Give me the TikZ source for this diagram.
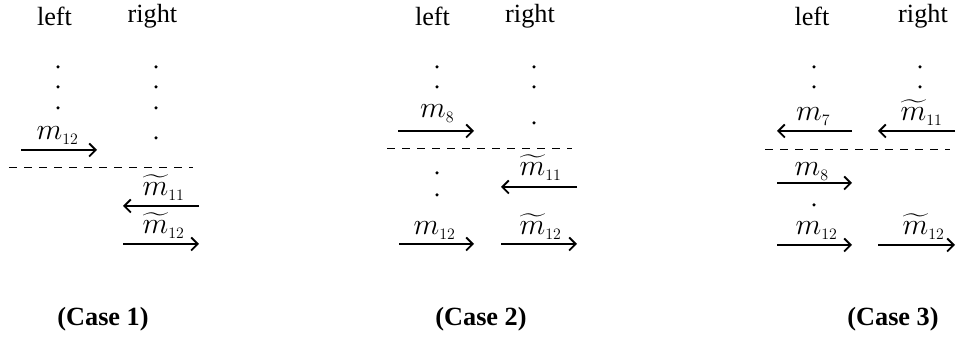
\documentclass[tikz,border=0pt]{standalone}
\usepackage[no-math]{fontspec}
\setmainfont{Liberation Serif}
\usepackage{graphicx}
\usetikzlibrary{arrows.meta}
\newcommand\sbn[1]{_{\hbox{\scalebox{0.53}{$#1$}}}}
\tikzset{
  msg/.style={line width=0.75pt, -{Straight Barb[length=2.6pt,width=5.2pt]}},
  lbl/.style={anchor=base, inner sep=0pt, font=\fontsize{12.3}{14}\selectfont},
  hdr/.style={anchor=base, inner sep=0pt, font=\fontsize{10.5}{12}\selectfont},
  casetitle/.style={anchor=base, inner sep=0pt, font=\fontsize{10.5}{12}\selectfont\bfseries},
  sepline/.style={dashed, line width=0.4pt},
  dotr/.style={radius=0.7pt}
}
\begin{document}
\begin{tikzpicture}[x=0.4pt,y=-0.4pt]
\useasboundingbox (0,0) rectangle (956,337);
% ---------------- Case 1
\node[hdr] (h1l) at (54.5,26) {left};
\node[hdr] (h1r) at (152.5,23) {right};
\foreach \yy in {67,87,108} \fill (58,\yy) circle[dotr];
\foreach \yy in {67,87,108,138} \fill (156,\yy) circle[dotr];
\coordinate (c1a) at (21,150); \coordinate (c1b) at (97,150);
\draw[msg] (c1a) -- (c1b);
\node[lbl] (l1a) at (58,140) {$m\sbn{12}$};
\coordinate (d1a) at (9,168); \coordinate (d1b) at (193,168);
\draw[sepline] (d1a) -- (d1b);
\coordinate (c1c) at (199,206); \coordinate (c1d) at (123,206);
\draw[msg] (c1c) -- (c1d);
\node[lbl] (l1b) at (164,196) {$\widetilde{m}\sbn{11}$};
\coordinate (c1e) at (123,244); \coordinate (c1f) at (199,244);
\draw[msg] (c1e) -- (c1f);
\node[lbl] (l1c) at (164,234) {$\widetilde{m}\sbn{12}$};
\node[casetitle] (t1) at (103,326) {(Case 1)};
% ---------------- Case 2
\node[hdr] (h2l) at (432.5,26) {left};
\node[hdr] (h2r) at (530,23) {right};
\foreach \yy in {67,87,173,195} \fill (437,\yy) circle[dotr];
\foreach \yy in {67,87,123} \fill (534,\yy) circle[dotr];
\coordinate (c2a) at (398,131); \coordinate (c2b) at (474,131);
\draw[msg] (c2a) -- (c2b);
\node[lbl] (l2a) at (437.5,118) {$m\sbn{8}$};
\coordinate (d2a) at (387,149); \coordinate (d2b) at (572,149);
\draw[sepline] (d2a) -- (d2b);
\coordinate (c2c) at (577,187); \coordinate (c2d) at (501,187);
\draw[msg] (c2c) -- (c2d);
\node[lbl] (l2b) at (541,176) {$\widetilde{m}\sbn{11}$};
\coordinate (c2e) at (399,244); \coordinate (c2f) at (474,244);
\draw[msg] (c2e) -- (c2f);
\node[lbl] (l2c) at (435,235) {$m\sbn{12}$};
\coordinate (c2g) at (501,244); \coordinate (c2h) at (577,244);
\draw[msg] (c2g) -- (c2h);
\node[lbl] (l2d) at (541,235) {$\widetilde{m}\sbn{12}$};
\node[casetitle] (t2) at (481,326) {(Case 2)};
% ---------------- Case 3
\node[hdr] (h3l) at (812,26) {left};
\node[hdr] (h3r) at (923,23) {right};
\foreach \yy in {67,87,205} \fill (814,\yy) circle[dotr];
\foreach \yy in {67,87} \fill (920,\yy) circle[dotr];
\coordinate (c3a) at (852,131); \coordinate (c3b) at (777,131);
\draw[msg] (c3a) -- (c3b);
\node[lbl] (l3a) at (813.5,121) {$m\sbn{7}$};
\coordinate (c3c) at (955,131); \coordinate (c3d) at (878,131);
\draw[msg] (c3c) -- (c3d);
\node[lbl] (l3b) at (922,121) {$\widetilde{m}\sbn{11}$};
\coordinate (d3a) at (765,150); \coordinate (d3b) at (950,150);
\draw[sepline] (d3a) -- (d3b);
\coordinate (c3e) at (777,183); \coordinate (c3f) at (852,183);
\draw[msg] (c3e) -- (c3f);
\node[lbl] (l3c) at (812,176) {$m\sbn{8}$};
\coordinate (c3g) at (777,245); \coordinate (c3h) at (852,245);
\draw[msg] (c3g) -- (c3h);
\node[lbl] (l3d) at (817,235) {$m\sbn{12}$};
\coordinate (c3i) at (878,245); \coordinate (c3j) at (955,245);
\draw[msg] (c3i) -- (c3j);
\node[lbl] (l3e) at (924,235) {$\widetilde{m}\sbn{12}$};
\node[casetitle] (t3) at (893,326) {(Case 3)};
\end{tikzpicture}
\end{document}
